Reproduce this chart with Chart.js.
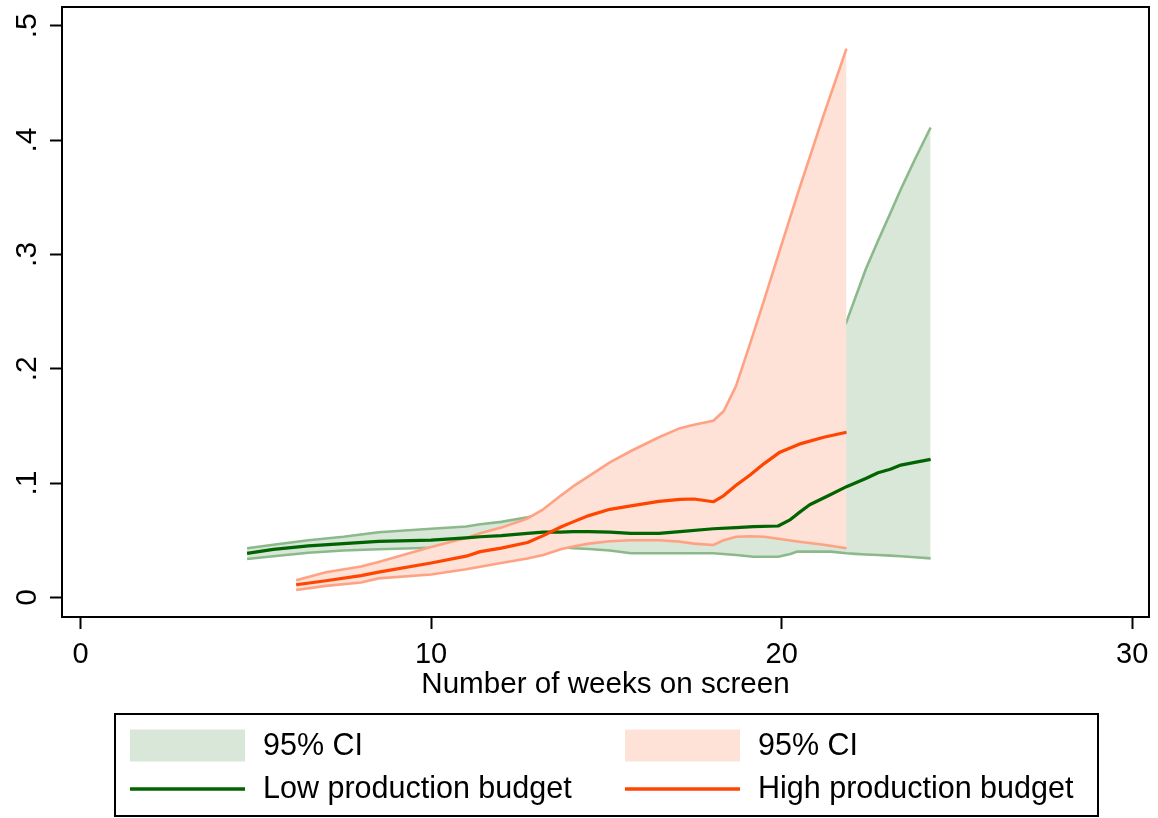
<!DOCTYPE html>
<html>
<head>
<meta charset="utf-8">
<script src="https://cdn.jsdelivr.net/npm/chart.js@4.4.0/dist/chart.umd.min.js"></script>
<style>
  html, body { margin: 0; padding: 0; background: #ffffff; }
  #wrap { width: 1158px; height: 818px; position: relative; }
</style>
</head>
<body>
<div id="wrap"><canvas id="c" width="1158" height="818"></canvas></div>
<script>
// Low production budget: week grid, fitted hazard and 95% band
const lowWeeks = [4.75, 5.5, 6.5, 7.5, 8.5, 10, 11, 11.4, 12, 12.75, 13.2, 13.7, 14.05, 14.5, 15.1, 15.7, 16.5, 17.1, 18.05, 18.7, 19.2, 19.9, 20.25, 20.45, 20.8, 21.4, 21.85, 22.1, 22.4, 22.75, 23.1, 23.4, 23.8, 24.25];
const lowMean  = [0.0385, 0.042, 0.045, 0.047, 0.049, 0.050, 0.052, 0.053, 0.054, 0.056, 0.057, 0.057, 0.0574, 0.0574, 0.057, 0.056, 0.056, 0.0574, 0.060, 0.061, 0.0618, 0.0624, 0.068, 0.073, 0.081, 0.090, 0.0968, 0.100, 0.104, 0.109, 0.112, 0.1157, 0.118, 0.1207];
const lowUpper = [0.043, 0.046, 0.050, 0.053, 0.057, 0.060, 0.062, 0.064, 0.066, 0.070, 0.073, 0.077, 0.080, 0.083, 0.086, 0.089, 0.092, 0.095, 0.100, 0.110, 0.125, 0.150, 0.165, 0.175, 0.190, 0.215, 0.241, 0.262, 0.287, 0.312, 0.336, 0.357, 0.383, 0.411];
const lowLower = [0.0335, 0.036, 0.039, 0.041, 0.042, 0.0434, 0.044, 0.0449, 0.045, 0.045, 0.045, 0.044, 0.043, 0.0423, 0.041, 0.0385, 0.0385, 0.0385, 0.0385, 0.037, 0.0355, 0.0355, 0.038, 0.040, 0.040, 0.040, 0.0385, 0.038, 0.0375, 0.037, 0.0365, 0.036, 0.035, 0.0341];

// High production budget: week grid, fitted hazard and 95% band
const highWeeks = [6.15, 7, 8, 8.5, 10, 11, 11.4, 12, 12.75, 13.2, 13.7, 14.05, 14.5, 15.1, 15.7, 16.5, 17.1, 17.5, 18.05, 18.35, 18.7, 19.1, 19.5, 19.95, 20.5, 21.2, 21.85];
const highMean  = [0.011, 0.0145, 0.019, 0.022, 0.030, 0.036, 0.040, 0.043, 0.048, 0.054, 0.0615, 0.066, 0.0715, 0.077, 0.080, 0.084, 0.0857, 0.086, 0.0836, 0.089, 0.098, 0.107, 0.117, 0.127, 0.134, 0.140, 0.1444];
const highUpper = [0.015, 0.022, 0.027, 0.031, 0.044, 0.052, 0.056, 0.061, 0.069, 0.077, 0.089, 0.097, 0.106, 0.118, 0.128, 0.140, 0.148, 0.151, 0.1545, 0.163, 0.185, 0.222, 0.260, 0.304, 0.357, 0.422, 0.480];
const highLower = [0.0064, 0.010, 0.013, 0.0166, 0.020, 0.0245, 0.0268, 0.030, 0.034, 0.037, 0.042, 0.0445, 0.047, 0.049, 0.050, 0.050, 0.0487, 0.047, 0.0458, 0.050, 0.053, 0.0535, 0.053, 0.051, 0.0487, 0.046, 0.0429];

// Axis ticks
const xTicks = [0, 10, 20, 30];
const yTicks = [0, 0.1, 0.2, 0.3, 0.4, 0.5];
const yTickLabels = ['0', '.1', '.2', '.3', '.4', '.5'];
const xTitle = 'Number of weeks on screen';
const bandLabel = '95% CI';
const lowLabel = 'Low production budget';
const highLabel = 'High production budget';

const FONT = '"Liberation Sans", Arial, Helvetica, sans-serif';
const ORANGE = '#ff4500';
const DKGREEN = '#006400';
const PINK_LINE = '#ffa283';
const PINK_FILL = '#fee1d7';
const GREEN_LINE = '#8cb98c';
const GREEN_FILL = '#d8e7d8';

const pts = (xs, ys) => xs.map((x, i) => ({ x: x, y: ys[i] }));

// Datasets are listed top-most first; Chart.js paints them in reverse order.
const datasets = [
  { label: highLabel, data: pts(highWeeks, highMean), borderColor: ORANGE, borderWidth: 3.2, fill: false },
  { label: lowLabel, data: pts(lowWeeks, lowMean), borderColor: DKGREEN, borderWidth: 3.2, fill: false },
  { label: bandLabel, data: pts(highWeeks, highUpper), borderColor: PINK_LINE, borderWidth: 2.6, fill: false },
  { label: bandLabel, data: pts(highWeeks, highLower), borderColor: PINK_LINE, borderWidth: 2.6, fill: '-1', backgroundColor: PINK_FILL },
  { label: bandLabel, data: pts(lowWeeks, lowUpper), borderColor: GREEN_LINE, borderWidth: 2.6, fill: false },
  { label: bandLabel, data: pts(lowWeeks, lowLower), borderColor: GREEN_LINE, borderWidth: 2.6, fill: '-1', backgroundColor: GREEN_FILL }
];

// Frame around the plot region
const framePlugin = {
  id: 'frame',
  afterDraw(chart) {
    const a = chart.chartArea, ctx = chart.ctx;
    ctx.save();
    ctx.strokeStyle = '#000';
    ctx.lineWidth = 2;
    ctx.strokeRect(a.left, a.top, a.right - a.left, a.bottom - a.top);
    ctx.restore();
  }
};

// Vertical-reading y tick labels
const yLabelPlugin = {
  id: 'yLabels',
  afterDraw(chart) {
    const s = chart.scales.y, ctx = chart.ctx;
    ctx.save();
    ctx.fillStyle = '#000';
    ctx.font = '30px ' + FONT;
    ctx.textAlign = 'center';
    ctx.textBaseline = 'alphabetic';
    yTicks.forEach((v, i) => {
      const py = s.getPixelForValue(v);
      ctx.save();
      ctx.translate(36, py);
      ctx.rotate(-Math.PI / 2);
      ctx.fillText(yTickLabels[i], 0, 0);
      ctx.restore();
    });
    ctx.restore();
  }
};

// Boxed two-column legend under the plot
const legendPlugin = {
  id: 'boxLegend',
  afterDraw(chart) {
    const ctx = chart.ctx;
    const ds = chart.data.datasets;
    const box = { x: 115, y: 714, w: 983, h: 102 };
    ctx.save();
    ctx.strokeStyle = '#000';
    ctx.lineWidth = 2;
    ctx.strokeRect(box.x, box.y, box.w, box.h);
    const cols = [130, 625];
    const keyW = 115;
    const items = [
      { d: ds[5], col: 0, row: 0, area: true },
      { d: ds[3], col: 1, row: 0, area: true },
      { d: ds[1], col: 0, row: 1, area: false },
      { d: ds[0], col: 1, row: 1, area: false }
    ];
    const rowsY = [745.5, 789];
    ctx.font = '30.5px ' + FONT;
    ctx.textBaseline = 'middle';
    ctx.textAlign = 'left';
    items.forEach(it => {
      const x0 = cols[it.col], yc = rowsY[it.row];
      if (it.area) {
        ctx.fillStyle = it.d.backgroundColor;
        ctx.fillRect(x0, yc - 16, keyW, 32);
      } else {
        ctx.strokeStyle = it.d.borderColor;
        ctx.lineWidth = 3.5;
        ctx.beginPath();
        ctx.moveTo(x0, yc);
        ctx.lineTo(x0 + keyW, yc);
        ctx.stroke();
      }
      ctx.fillStyle = '#000';
      ctx.fillText(it.d.label, x0 + keyW + 18, yc + 1);
    });
    ctx.restore();
  }
};

new Chart(document.getElementById('c'), {
  type: 'line',
  data: { datasets: datasets },
  options: {
    responsive: false,
    animation: false,
    events: [],
    layout: { padding: { left: 0, top: 7, right: 9, bottom: 113 } },
    elements: { point: { radius: 0 }, line: { tension: 0, borderJoinStyle: 'round', borderCapStyle: 'butt' } },
    plugins: {
      legend: { display: false },
      tooltip: { enabled: false },
      filler: { drawTime: 'beforeDatasetDraw' }
    },
    scales: {
      x: {
        type: 'linear',
        min: -0.53,
        max: 30.48,
        afterBuildTicks: s => { s.ticks = xTicks.map(v => ({ value: v })); },
        afterFit: s => { s.height = 88; },
        grid: { drawOnChartArea: false, drawTicks: true, tickLength: 12, tickWidth: 2, tickColor: '#000' },
        border: { display: true, color: '#000', width: 2 },
        ticks: { color: '#000', font: { family: FONT, size: 29 }, padding: 9, maxRotation: 0, minRotation: 0 },
        title: { display: true, text: xTitle, color: '#000', font: { family: FONT, size: 29.6 }, padding: { top: 0, bottom: 2 } }
      },
      y: {
        type: 'linear',
        min: -0.0172,
        max: 0.5164,
        afterBuildTicks: s => { s.ticks = yTicks.map(v => ({ value: v })); },
        afterFit: s => { s.width = 62; },
        grid: { drawOnChartArea: false, drawTicks: true, tickLength: 12, tickWidth: 2, tickColor: '#000' },
        border: { display: true, color: '#000', width: 2 },
        ticks: { display: false }
      }
    }
  },
  plugins: [framePlugin, yLabelPlugin, legendPlugin]
});
</script>
</body>
</html>
